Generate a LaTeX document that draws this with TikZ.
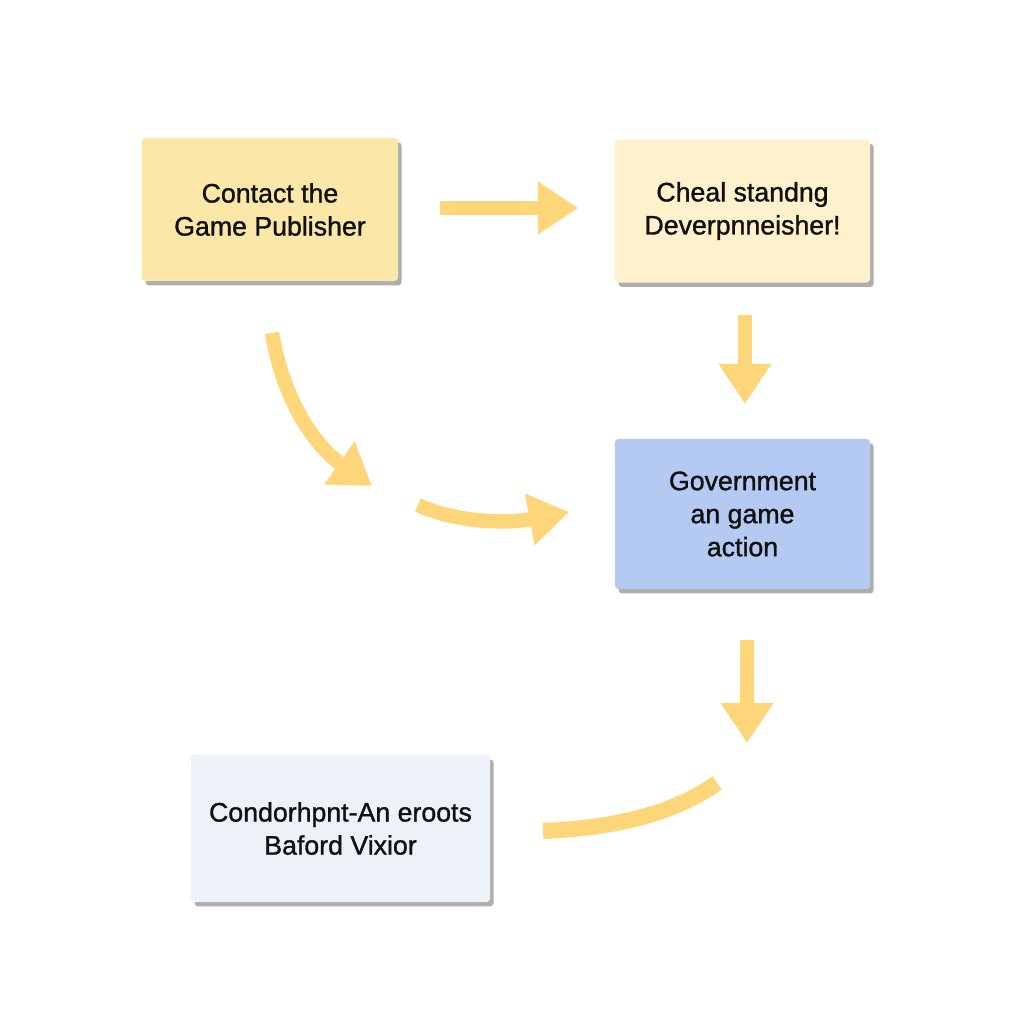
\documentclass[tikz,border=0pt]{standalone}
\usepackage{fontspec}
\setmainfont{Liberation Sans}
\newfontfamily\medfont[FakeBold=1.2]{Liberation Sans}
\usetikzlibrary{arrows.meta,shadows}
\definecolor{arrowcol}{HTML}{FCD679}
\definecolor{boxA}{HTML}{FBE7A7}
\definecolor{boxB}{HTML}{FEF1CC}
\definecolor{boxC}{HTML}{B4CAF2}
\definecolor{boxD}{HTML}{EDF2F9}
\definecolor{txt}{HTML}{111111}
\tikzset{
  flowbox/.style={rectangle, rounded corners=2.5pt, inner sep=0pt, align=center,
    text=txt, font=\medfont\fontsize{19}{23.5}\selectfont,
    drop shadow={shadow xshift=0.09cm, shadow yshift=-0.11cm, opacity=0.45, fill=black!70}},
  fatarrow/.style={draw=arrowcol, line width=0.36cm,
    -{Triangle[width=1.25cm,length=1cm]}},
  fatarc/.style={draw=arrowcol, line width=0.4cm}
}
\begin{document}
\begin{tikzpicture}[x=0.025cm,y=-0.025cm]
\useasboundingbox[fill=white] (0,0) rectangle (1024,1024);
\node[flowbox, fill=boxA, minimum width=6.4cm, minimum height=3.575cm] (b1) at (270,209.5) {Contact the\\Game Publisher};
\node[flowbox, fill=boxB, minimum width=6.375cm, minimum height=3.575cm] (b2) at (742.5,211) {Cheal standng\\Deverpnneisher!};
\node[flowbox, fill=boxC, minimum width=6.375cm, minimum height=3.75cm] (b3) at (742.5,514) {Government\\an game\\action};
\node[flowbox, fill=boxD, minimum width=7.475cm, minimum height=3.675cm] (b4) at (340.5,828.5) {Condorhpnt-An eroots\\Baford Vixior};
% arrow coordinates
\coordinate (a1s) at (440,208);
\coordinate (a1e) at (578,208);
\coordinate (a2s) at (745,315);
\coordinate (a2e) at (745,404);
\coordinate (a3s) at (272,333);
\coordinate (a3e) at (372,486);
\coordinate (a4s) at (418,505);
\coordinate (a4e) at (569,512);
\coordinate (a5s) at (747,640);
\coordinate (a5e) at (747,743);
\coordinate (a6s) at (543,831);
\coordinate (a6e) at (717,783);
\draw[fatarrow] (a1s) -- (a1e);
\draw[fatarrow] (a2s) -- (a2e);
\draw[fatarrow] (a3s) .. controls (284,405) and (318,448) .. (a3e);
\draw[fatarrow] (a4s) .. controls (455,522) and (505,524) .. (a4e);
\draw[fatarrow] (a5s) -- (a5e);
\draw[fatarc] (a6s) .. controls (612,828) and (672,815) .. (a6e);
\end{tikzpicture}
\end{document}
